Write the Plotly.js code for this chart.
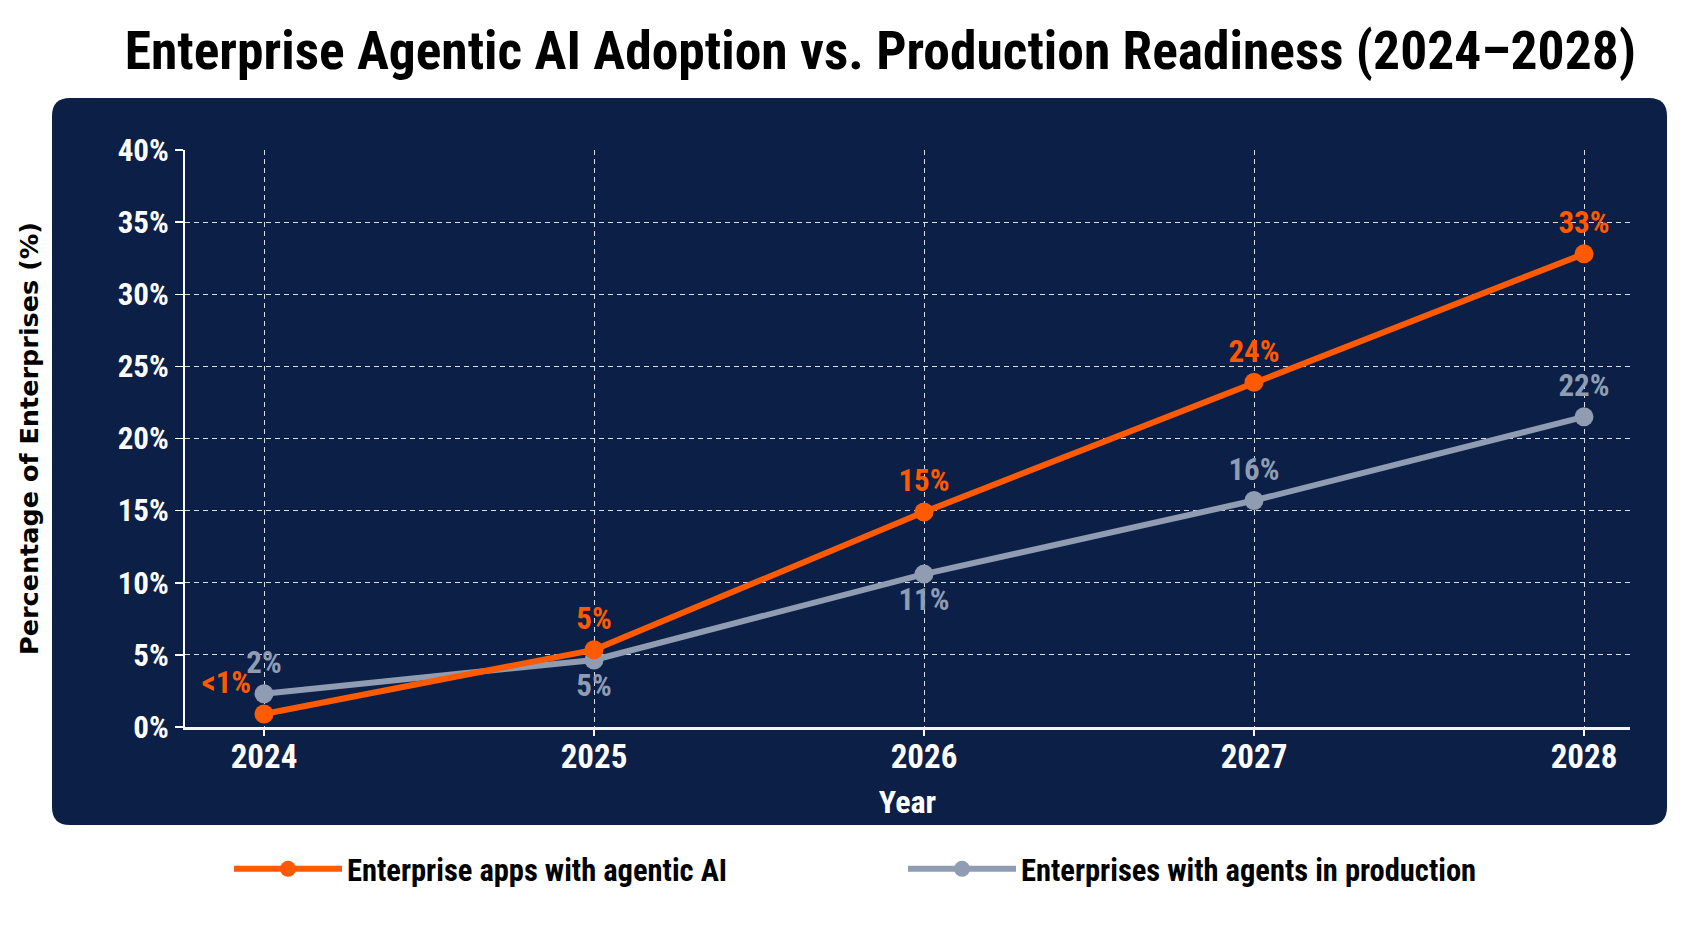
<!DOCTYPE html>
<html>
<head>
<meta charset="utf-8">
<script src="https://cdn.plot.ly/plotly-3.0.1.min.js"></script>
<style>
  html, body { margin: 0; padding: 0; background: #ffffff; }
  #chart { width: 1693px; height: 929px; }
</style>
</head>
<body>
<div id="chart"></div>
<script>
// ---- Data ----
const years = [2024, 2025, 2026, 2027, 2028];
const yearLabels = ["2024", "2025", "2026", "2027", "2028"];
const appsWithAgenticAI = [0.9, 5.35, 14.9, 23.9, 32.8];
const appsLabels = ["<1%", "5%", "15%", "24%", "33%"];
const agentsInProduction = [2.3, 4.65, 10.6, 15.7, 21.5];
const agentsLabels = ["2%", "5%", "11%", "16%", "22%"];
const yTicks = [0, 5, 10, 15, 20, 25, 30, 35, 40];
const yTickLabels = ["0%", "5%", "10%", "15%", "20%", "25%", "30%", "35%", "40%"];
const seriesNames = ["Enterprise apps with agentic AI", "Enterprises with agents in production"];

// ---- Styling / layout constants ----
const W = 1693, H = 929;
const M = { l: 185, r: 63, t: 150, b: 202 };
const plotW = W - M.l - M.r, plotH = H - M.t - M.b;
const px2x = px => (px - M.l) / plotW;
const px2y = py => (H - M.b - py) / plotH;

const NARROW = "'Roboto Condensed', 'Liberation Sans Narrow', sans-serif";
const ORANGE = "#ff5a00";
const GRAY = "#8f9cb2";
const NAVY = "#0b1f47";

// rounded panel behind the plot
const px0 = px2x(52), px1 = px2x(1667), py0 = px2y(825), py1 = px2y(98);
const rx = 18 / plotW, ry = 18 / plotH;
const panelPath =
  `M ${px0 + rx},${py1} L ${px1 - rx},${py1} Q ${px1},${py1} ${px1},${py1 - ry} ` +
  `L ${px1},${py0 + ry} Q ${px1},${py0} ${px1 - rx},${py0} ` +
  `L ${px0 + rx},${py0} Q ${px0},${py0} ${px0},${py0 + ry} ` +
  `L ${px0},${py1 - ry} Q ${px0},${py1} ${px0 + rx},${py1} Z`;

const traceApps = {
  x: years, y: appsWithAgenticAI, name: seriesNames[0],
  type: "scatter", mode: "lines+markers+text",
  line: { color: ORANGE, width: 6 },
  marker: { color: ORANGE, size: 19 },
  text: appsLabels,
  textposition: ["top left", "top center", "top center", "top center", "top center"],
  textfont: { family: NARROW, size: 31, color: ORANGE, weight: "bold" },
  cliponaxis: false, hoverinfo: "skip", legendrank: 1
};
const traceAgents = {
  x: years, y: agentsInProduction, name: seriesNames[1],
  type: "scatter", mode: "lines+markers+text",
  line: { color: GRAY, width: 6 },
  marker: { color: GRAY, size: 19 },
  text: agentsLabels,
  textposition: ["top center", "bottom center", "bottom center", "top center", "top center"],
  textfont: { family: NARROW, size: 31, color: GRAY, weight: "bold" },
  cliponaxis: false, hoverinfo: "skip", legendrank: 2
};
// gray drawn first so orange lies on top
const data = [traceAgents, traceApps];

const layout = {
  width: W, height: H,
  margin: M,
  paper_bgcolor: "#ffffff",
  plot_bgcolor: "rgba(0,0,0,0)",
  showlegend: true,
  title: {
    text: "Enterprise Agentic AI Adoption vs. Production Readiness (2024–2028)",
    font: { family: NARROW, size: 53.5, color: "#000000", weight: "bold" },
    xref: "container", x: 0.52, xanchor: "center",
    yref: "container", y: 1 - 50 / H, yanchor: "middle"
  },
  xaxis: {
    range: [2024 - (264 - M.l) / 330, 2028 + (M.l + plotW - 1584) / 330],
    tickmode: "array", tickvals: years, ticktext: yearLabels,
    showgrid: true, gridcolor: "rgba(255,255,255,0.85)", gridwidth: 1, griddash: "5px,4px",
    showline: true, linecolor: "#f2f4f8", linewidth: 3,
    ticks: "outside", ticklen: 6, tickcolor: "#ffffff", tickwidth: 1.5,
    ticklabelstandoff: -8,
    zeroline: false, fixedrange: true,
    tickfont: { family: NARROW, size: 33, color: "#ffffff", weight: "bold" },
    title: { text: "Year", standoff: 17, font: { family: NARROW, size: 32, color: "#ffffff", weight: "bold" } }
  },
  yaxis: {
    range: [0, 40], tickmode: "array", tickvals: yTicks, ticktext: yTickLabels,
    showgrid: true, gridcolor: "rgba(255,255,255,0.85)", gridwidth: 1, griddash: "5px,4px",
    showline: true, linecolor: "#ffffff", linewidth: 2,
    ticks: "outside", ticklen: 8, tickcolor: "#ffffff", tickwidth: 1.5,
    zeroline: false, fixedrange: true,
    tickfont: { family: NARROW, size: 31, color: "#ffffff", weight: "bold" },
    title: { text: "Percentage of Enterprises (%)", standoff: 72,
             font: { family: "'DejaVu Sans', Verdana, sans-serif", size: 25.5, color: "#000000", weight: "bold" } }
  },
  legend: {
    orientation: "h",
    x: px2x(229), xanchor: "left",
    y: px2y(869), yanchor: "middle",
    itemwidth: 108,
    entrywidth: 551, entrywidthmode: "pixels",
    traceorder: "normal",
    font: { family: NARROW, size: 30.5, color: "#000000", weight: "bold" },
    bgcolor: "rgba(0,0,0,0)"
  },
  shapes: [
    { type: "path", xref: "paper", yref: "paper", path: panelPath,
      fillcolor: NAVY, line: { width: 0 }, layer: "below" }
  ]
};

Plotly.newPlot("chart", data, layout, { staticPlot: true, displayModeBar: false });
</script>
</body>
</html>
